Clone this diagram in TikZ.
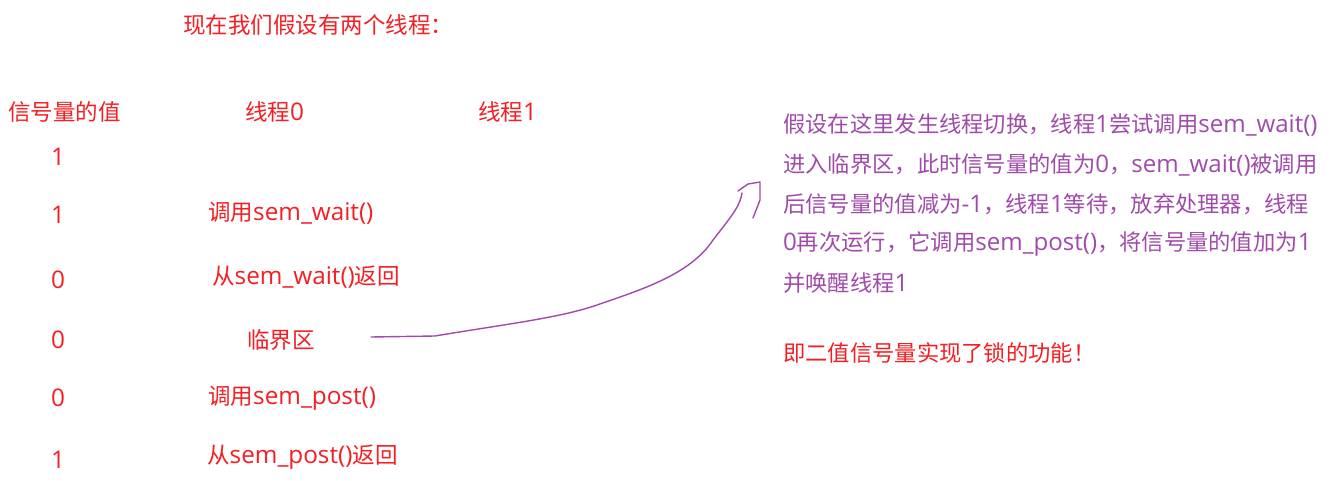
\documentclass[tikz,border=0pt]{standalone}
\usepackage{fontspec}
\setmainfont{Noto Sans CJK SC}
\newfontfamily\latfont[Scale=1.08]{Open Sans}
\newcommand\lt[1]{{\latfont #1}}
\definecolor{tred}{RGB}{245,30,35}
\definecolor{tpurple}{RGB}{160,75,170}
\begin{document}
\begin{tikzpicture}[x=1pt,y=-1pt,
  lbl/.style={inner sep=0pt,text=tred,font=\fontsize{22.5}{26}\selectfont},
  rt/.style={inner sep=0pt,anchor=west,text=tpurple,font=\fontsize{22.3}{26}\selectfont},
  link/.style={draw=tpurple,line width=1.4pt,line cap=round,line join=round}]
\useasboundingbox[fill=white] (0,0) rectangle (1340,481);
\node[lbl,anchor=west] (title) at (183,25) {现在我们假设有两个线程：};
\node[lbl,anchor=west] (hsem) at (8,112) {信号量的值};
\node[lbl,anchor=west] (ht0) at (245,112) {线程\lt{0}};
\node[lbl,anchor=west] (ht1) at (478,112) {线程\lt{1}};
\node[lbl] (v1) at (58,157) {\lt{1}};
\node[lbl] (v2) at (58,215) {\lt{1}};
\node[lbl] (v3) at (58,280) {\lt{0}};
\node[lbl] (v4) at (58,340) {\lt{0}};
\node[lbl] (v5) at (58,398) {\lt{0}};
\node[lbl] (v6) at (58,460) {\lt{1}};
\node[lbl,anchor=west] (s1) at (208,213) {调用\lt{sem\_wait()}};
\node[lbl,anchor=west] (s2) at (212,277) {从\lt{sem\_wait()}返回};
\node[lbl,anchor=west] (s3) at (247,340) {临界区};
\node[lbl,anchor=west] (s4) at (208,398) {调用\lt{sem\_post()}};
\node[lbl,anchor=west] (s5) at (207,457) {从\lt{sem\_post()}返回};
\node[rt] (r1) at (783,125) {假设在这里发生线程切换，线程\lt{1}尝试调用\lt{sem\_wait()}};
\node[rt] (r2) at (783,165) {进入临界区，此时信号量的值为\lt{0}，\lt{sem\_wait()}被调用};
\node[rt] (r3) at (783,204) {后信号量的值减为\lt{-1}，线程\lt{1}等待，放弃处理器，线程};
\node[rt] (r4) at (783,244) {\lt{0}再次运行，它调用\lt{sem\_post()}，将信号量的值加为\lt{1}};
\node[rt] (r5) at (783,283) {并唤醒线程\lt{1}};
\node[rt,text=tred] (r6) at (783,353) {即二值信号量实现了锁的功能！};
\coordinate (a0) at (371,337);
\coordinate (a1) at (742,193);
\draw[link] (a0) -- (435,336) .. controls (500,325) and (560,318) .. (597,305)
  .. controls (640,290) and (690,275) .. (713,240)
  .. controls (735,212) and (740,205) .. (a1);
\draw[link] (738,191) -- (748,184) -- (760,182) -- (760,200) -- (753,218);
\end{tikzpicture}
\end{document}
